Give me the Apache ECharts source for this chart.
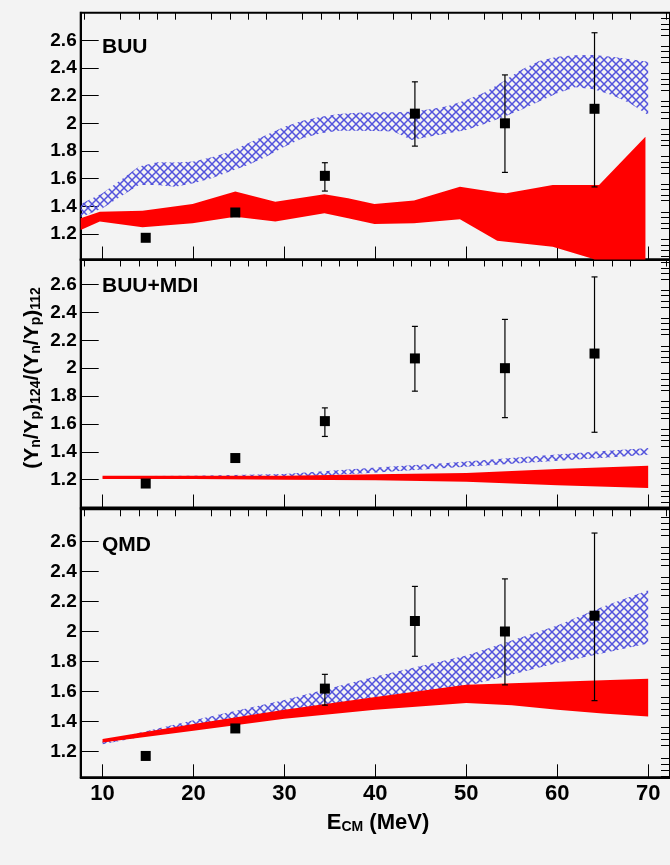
<!DOCTYPE html>
<html><head><meta charset="utf-8">
<script src="https://cdn.jsdelivr.net/npm/echarts@6/dist/echarts.min.js"></script>
<style>html,body{margin:0;padding:0;background:#f3f3f3;} #c{width:670px;height:865px;}</style>
</head><body><div id="c"></div>
<script>
// ---- data ----
const energy    = [14.75, 24.6, 34.45, 44.35, 54.25, 64.1];
const ratio     = [1.172, 1.355, 1.62, 2.07, 2.0, 2.105];
const ratioLow  = [1.165, 1.33, 1.51, 1.835, 1.645, 1.54];
const ratioHigh = [1.18, 1.375, 1.715, 2.3, 2.35, 2.655];

const xMajorTicks = [10, 20, 30, 40, 50, 60, 70];
const xMinorTicks = [8, 12, 14, 16, 18, 22, 24, 26, 28, 32, 34, 36, 38, 42, 44, 46, 48, 52, 54, 56, 58, 62, 64, 66, 68, 72];
const yMajorTicks = [1.2, 1.4, 1.6, 1.8, 2, 2.2, 2.4, 2.6];

const panelNames = ['BUU', 'BUU+MDI', 'QMD'];

// BUU panel
const buuBlueX  = [7.6, 10, 12, 14, 16, 18, 20, 22, 24, 26, 28, 30, 32, 34, 36, 38, 40, 42, 44, 46, 48, 50, 52, 54, 56, 58, 60, 62, 64, 66, 68, 70];
const buuBlueHi = [1.417, 1.494, 1.590, 1.687, 1.718, 1.716, 1.723, 1.754, 1.795, 1.855, 1.916, 1.976, 2.019, 2.048, 2.068, 2.077, 2.080, 2.080, 2.084, 2.101, 2.125, 2.169, 2.222, 2.301, 2.386, 2.451, 2.482, 2.492, 2.494, 2.482, 2.463, 2.446];
const buuBlueLo = [1.320, 1.386, 1.470, 1.554, 1.554, 1.542, 1.566, 1.602, 1.651, 1.699, 1.759, 1.831, 1.892, 1.928, 1.947, 1.947, 1.945, 1.940, 1.880, 1.904, 1.928, 1.952, 1.995, 2.044, 2.097, 2.157, 2.217, 2.260, 2.246, 2.205, 2.145, 2.060];
const buuRedX   = [7.6, 9.7, 14.4, 19.9, 24.6, 29.0, 34.4, 37.0, 39.9, 44.25, 49.3, 53.4, 54.4, 59.5, 63.9, 64.6, 69.7];
const buuRedHi  = [1.313, 1.361, 1.368, 1.417, 1.506, 1.433, 1.487, 1.458, 1.417, 1.441, 1.542, 1.50, 1.494, 1.554, 1.554, 1.554, 1.903];
const buuRedLo  = [1.229, 1.289, 1.248, 1.277, 1.325, 1.289, 1.350, 1.313, 1.272, 1.277, 1.306, 1.15, 1.144, 1.108, 1.02, 0.99, 0.85];

// BUU+MDI panel
const mdiBlueX  = [10, 20, 30, 39.3, 47.8, 56.3, 64.75, 70];
const mdiBlueHi = [1.225, 1.228, 1.24, 1.284, 1.32, 1.363, 1.403, 1.427];
const mdiBlueLo = [1.215, 1.215, 1.215, 1.248, 1.284, 1.32, 1.356, 1.379];
const mdiRedX   = [10, 20, 30, 40, 50, 60, 70];
const mdiRedHi  = [1.228, 1.228, 1.228, 1.238, 1.248, 1.277, 1.30];
const mdiRedLo  = [1.205, 1.205, 1.200, 1.196, 1.185, 1.160, 1.14];

// QMD panel
const qmdBlueX  = [10, 20, 30, 40, 50, 60, 65, 70];
const qmdBlueHi = [1.27, 1.41, 1.545, 1.70, 1.84, 2.04, 2.165, 2.275];
const qmdBlueLo = [1.25, 1.365, 1.465, 1.565, 1.635, 1.79, 1.855, 1.92];
const qmdRedX   = [10, 20, 30, 40, 50, 55, 60, 65, 70];
const qmdRedHi  = [1.285, 1.385, 1.48, 1.565, 1.645, 1.655, 1.665, 1.675, 1.685];
const qmdRedLo  = [1.262, 1.34, 1.42, 1.48, 1.525, 1.51, 1.48, 1.455, 1.435];

// ---- layout / style ----
const FONT = '"Liberation Sans", Arial, sans-serif';
const grids = [
  {top: 12.7, height: 246.8, ymin: 1.015, ymax: 2.80},
  {top: 259.5, height: 248, ymin: 1.0, ymax: 2.78},
  {top: 509.3, height: 268, ymin: 1.03, ymax: 2.813}
];
const bands = [
  {blue: [buuBlueX, buuBlueLo, buuBlueHi], red: [buuRedX, buuRedLo, buuRedHi]},
  {blue: [mdiBlueX, mdiBlueLo, mdiBlueHi], red: [mdiRedX, mdiRedLo, mdiRedHi]},
  {blue: [qmdBlueX, qmdBlueLo, qmdBlueHi], red: [qmdRedX, qmdRedLo, qmdRedHi]}
];
const labelY = [47.5, 286.7, 545];

const yMinorTicks = [];
for (let k = 26; k <= 69; k++) { const v = +(k * 0.04).toFixed(2); if (Math.abs(v*5 - Math.round(v*5)) > 1e-6) yMinorTicks.push(v); }

// hatch pattern
const pat = document.createElement('canvas');
pat.width = 8; pat.height = 8;
const pc = pat.getContext('2d');
pc.strokeStyle = '#5252dc'; pc.lineWidth = 1.5;
pc.beginPath();
pc.moveTo(-1, -1); pc.lineTo(9, 9);
pc.moveTo(9, -1); pc.lineTo(-1, 9);
pc.stroke();
const hatch = {image: pat, repeat: 'repeat'};

function bandSeries(gi, arr, fill) {
  const xs = arr[0], lo = arr[1], hi = arr[2];
  return {
    type: 'custom', xAxisIndex: gi * 2, yAxisIndex: gi * 2, clip: true, silent: true,
    data: xs.map((x, i) => [x, lo[i], hi[i]]),
    renderItem: (params, api) => {
      if (params.dataIndex !== 0) return null;
      const pts = [];
      for (let i = 0; i < xs.length; i++) pts.push(api.coord([xs[i], hi[i]]));
      for (let i = xs.length - 1; i >= 0; i--) pts.push(api.coord([xs[i], lo[i]]));
      return {type: 'polygon', shape: {points: pts}, style: {fill: fill}};
    }
  };
}

const option = {
  backgroundColor: '#f3f3f3',
  animation: false,
  grid: [], xAxis: [], yAxis: [], series: [], graphic: []
};

grids.forEach((g, i) => {
  option.grid.push({left: 80.7, right: -5, top: g.top, height: g.height, show: true,
    borderColor: '#000', borderWidth: 2, backgroundColor: 'transparent'});
  const isBottom = i === 2;
  option.xAxis.push({
    type: 'value', gridIndex: i, min: 7.6, max: 72.4,
    axisLine: {show: true, lineStyle: {color: '#000', width: 2}},
    axisTick: {show: true, inside: true, length: 13, customValues: xMajorTicks, lineStyle: {color: '#000', width: 1}},
    axisLabel: {show: isBottom, customValues: xMajorTicks, margin: 6,
      color: '#000', fontSize: 22, fontWeight: 'bold', fontFamily: FONT},
    splitLine: {show: false}
  });
  option.xAxis.push({
    type: 'value', gridIndex: i, min: 7.6, max: 72.4,
    axisLine: {show: false},
    axisTick: {show: true, inside: true, length: 7, customValues: xMinorTicks, lineStyle: {color: '#000', width: 1}},
    axisLabel: {show: false}, splitLine: {show: false}
  });
  option.yAxis.push({
    type: 'value', gridIndex: i, min: g.ymin, max: g.ymax,
    axisLine: {show: true, lineStyle: {color: '#000', width: 2}},
    axisTick: {show: true, inside: true, length: 18, customValues: yMajorTicks, lineStyle: {color: '#000', width: 1}},
    axisLabel: {show: true, customValues: yMajorTicks, margin: 4, color: '#000',
      fontSize: 19, fontWeight: 'bold', fontFamily: FONT,
      formatter: v => String(+(+v).toFixed(1))},
    splitLine: {show: false}
  });
  option.yAxis.push({
    type: 'value', gridIndex: i, min: g.ymin, max: g.ymax,
    axisLine: {show: false},
    axisTick: {show: true, inside: true, length: 9, customValues: yMinorTicks, lineStyle: {color: '#000', width: 1}},
    axisLabel: {show: false}, splitLine: {show: false}
  });

  option.series.push(bandSeries(i, bands[i].blue, hatch));
  option.series.push(bandSeries(i, bands[i].red, '#ff0000'));

  option.series.push({
    type: 'custom', xAxisIndex: i * 2, yAxisIndex: i * 2, silent: true,
    data: energy.map((x, k) => [x, ratioLow[k], ratioHigh[k]]),
    renderItem: (params, api) => {
      const x = api.value(0);
      const lo = api.coord([x, api.value(1)]);
      const hi = api.coord([x, api.value(2)]);
      const w = 3;
      const st = {stroke: '#000', lineWidth: 1.2};
      return {type: 'group', children: [
        {type: 'line', shape: {x1: lo[0], y1: lo[1], x2: hi[0], y2: hi[1]}, style: st},
        {type: 'line', shape: {x1: lo[0] - w, y1: lo[1], x2: lo[0] + w, y2: lo[1]}, style: st},
        {type: 'line', shape: {x1: hi[0] - w, y1: hi[1], x2: hi[0] + w, y2: hi[1]}, style: st}
      ]};
    }
  });
  option.series.push({
    type: 'scatter', xAxisIndex: i * 2, yAxisIndex: i * 2, silent: true,
    symbol: 'rect', symbolSize: 10, itemStyle: {color: '#000', opacity: 1},
    data: energy.map((x, k) => [x, ratio[k]])
  });

  option.graphic.push({type: 'text', x: 102, y: labelY[i],
    style: {text: panelNames[i], font: 'bold 21px ' + FONT, fill: '#000', textAlign: 'left', textVerticalAlign: 'middle'}});
});

// axis titles
option.graphic.push({
  type: 'text', x: 30, y: 378, rotation: Math.PI / 2,
  style: {
    text: '{a|(Y}{s|n}{a|/Y}{s|p}{a|)}{s|124}{a|/(Y}{s|n}{a|/Y}{s|p}{a|)}{s|112}',
    textAlign: 'center', textVerticalAlign: 'middle', fill: '#000',
    rich: {
      a: {fontSize: 21, fontWeight: 'bold', fontFamily: FONT, lineHeight: 26, verticalAlign: 'bottom', fill: '#000'},
      s: {fontSize: 14, fontWeight: 'bold', fontFamily: FONT, lineHeight: 14, verticalAlign: 'bottom', fill: '#000'}
    }
  }
});
option.graphic.push({
  type: 'text', x: 378, y: 820,
  style: {
    text: '{a|E}{s|CM}{a| (MeV)}',
    textAlign: 'center', textVerticalAlign: 'middle', fill: '#000',
    rich: {
      a: {fontSize: 22, fontWeight: 'bold', fontFamily: FONT, lineHeight: 28, verticalAlign: 'bottom', fill: '#000'},
      s: {fontSize: 14, fontWeight: 'bold', fontFamily: FONT, lineHeight: 14, verticalAlign: 'bottom', fill: '#000'}
    }
  }
});

const chart = echarts.init(document.getElementById('c'), null, {renderer: 'canvas'});
chart.setOption(option);
</script></body></html>
